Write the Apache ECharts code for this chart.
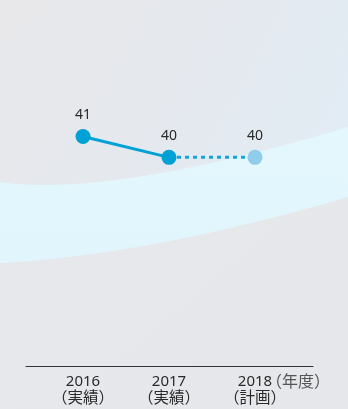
<!DOCTYPE html>
<html><head><meta charset="utf-8">
<script src="https://cdn.jsdelivr.net/npm/echarts@6/dist/echarts.min.js"></script>
<style>html,body{margin:0;padding:0;background:#e7e8eb}#c{width:348px;height:409px}</style>
</head><body><div id="c"></div>
<script>
var years = ['2016', '2017', '2018'];
var statuses = ['（実績）', '（実績）', '（計画）'];
var actualValues = [41, 40, null];
var planValues = [null, 40, 40];
var unitLabel = '（年度）';

var FONT = '"Noto Sans", "Noto Sans CJK JP", sans-serif';
var chart = echarts.init(document.getElementById('c'));
var cats = years.map(function (y, i) { return y + '|' + statuses[i]; });

// background decoration: quadratic curve sampler
function quad(p0, p1, p2, n) {
  var pts = [];
  for (var i = 0; i <= n; i++) {
    var t = i / n, a = (1 - t) * (1 - t), b = 2 * (1 - t) * t, c = t * t;
    pts.push([a * p0[0] + b * p1[0] + c * p2[0], a * p0[1] + b * p1[1] + c * p2[1]]);
  }
  return pts;
}
var topEdge = quad([0, 182], [110, 198], [348, 127], 40);
var botEdge = quad([348, 197], [150, 255], [0, 263], 40);
var band = topEdge.concat(botEdge);
var upper = [[0, 0], [348, 0]].concat(quad([348, 127], [110, 198], [0, 182], 40));

chart.setOption({
  backgroundColor: {
    type: 'linear', x: 0, y: 0, x2: 1, y2: 1,
    colorStops: [{offset: 0, color: '#e8e8eb'}, {offset: 0.5, color: '#e6e8ec'}, {offset: 1, color: '#e6e7ea'}]
  },
  graphic: [
    {type: 'polygon', z: -10, silent: true, shape: {points: upper},
     style: {fill: {type: 'linear', x: 0, y: 0, x2: 1, y2: 1, colorStops: [{offset: 0, color: 'rgba(230,232,236,0)'}, {offset: 0.55, color: 'rgba(226,234,242,0.5)'}, {offset: 1, color: 'rgba(224,238,248,0.8)'}]}}},
    {type: 'polygon', z: -9, silent: true, shape: {points: band},
     style: {fill: {type: 'linear', x: 0, y: 0, x2: 0, y2: 1, colorStops: [{offset: 0, color: '#e3f7fd'}, {offset: 1, color: '#e1f5fc'}]}}}
  ],
  grid: [
    {left: 40, right: 50, top: 53, bottom: 43, containLabel: false, outerBoundsMode: 'none'},
    {left: 26, right: 35, top: 53, bottom: 43, containLabel: false, outerBoundsMode: 'none'}
  ],
  xAxis: [
    {type: 'category', gridIndex: 0, data: cats, boundaryGap: true,
     axisLine: {show: false}, axisTick: {show: false}, splitLine: {show: false},
     axisLabel: {
       margin: 8, interval: 0,
       formatter: function (v) { var p = v.split('|'); return '{y|' + p[0] + '}\n{s|' + p[1] + '}'; },
       rich: {
         y: {fontSize: 15, color: '#2a2a2a', fontFamily: FONT, lineHeight: 16},
         s: {fontSize: 15.5, color: '#2a2a2a', fontFamily: FONT, lineHeight: 17}
       }
     },
     name: unitLabel, nameLocation: 'end', nameGap: -32, nameMoveOverlap: false,
     nameTextStyle: {fontSize: 16, color: '#555', fontFamily: FONT, align: 'left', verticalAlign: 'top', padding: [8, 0, 0, 0]}
    },
    {type: 'category', gridIndex: 1, data: cats, boundaryGap: true,
     axisLine: {show: true, lineStyle: {color: '#333', width: 1}}, axisTick: {show: false},
     axisLabel: {show: false}, splitLine: {show: false}}
  ],
  yAxis: [
    {type: 'value', gridIndex: 0, min: 30, max: 45, show: false, splitLine: {show: false}},
    {type: 'value', gridIndex: 1, min: 30, max: 45, show: false, splitLine: {show: false}}
  ],
  series: [
    {type: 'line', xAxisIndex: 0, yAxisIndex: 0, z: 3,
     data: planValues.map(function (v, i) {
       if (v === null) return '-';
       if (actualValues[i] !== null) return {value: v, symbol: 'none', label: {show: false}};
       return {value: v, itemStyle: {color: '#8fcdeb'}};
     }),
     symbol: 'circle', symbolSize: 15, showAllSymbol: true,
     lineStyle: {color: '#15a6d9', width: 3, type: [4, 4]},
     itemStyle: {color: '#8fcdeb'},
     label: {show: true, position: 'top', distance: 7, fontSize: 14, color: '#2a2a2a', fontFamily: FONT}
    },
    {type: 'line', xAxisIndex: 0, yAxisIndex: 0, z: 4,
     data: actualValues.map(function (v) { return v === null ? '-' : v; }),
     symbol: 'circle', symbolSize: 15,
     lineStyle: {color: '#00a2d6', width: 3},
     itemStyle: {color: '#00a2d6'},
     label: {show: true, position: 'top', distance: 7, fontSize: 14, color: '#2a2a2a', fontFamily: FONT}
    }
  ]
});
</script></body></html>
